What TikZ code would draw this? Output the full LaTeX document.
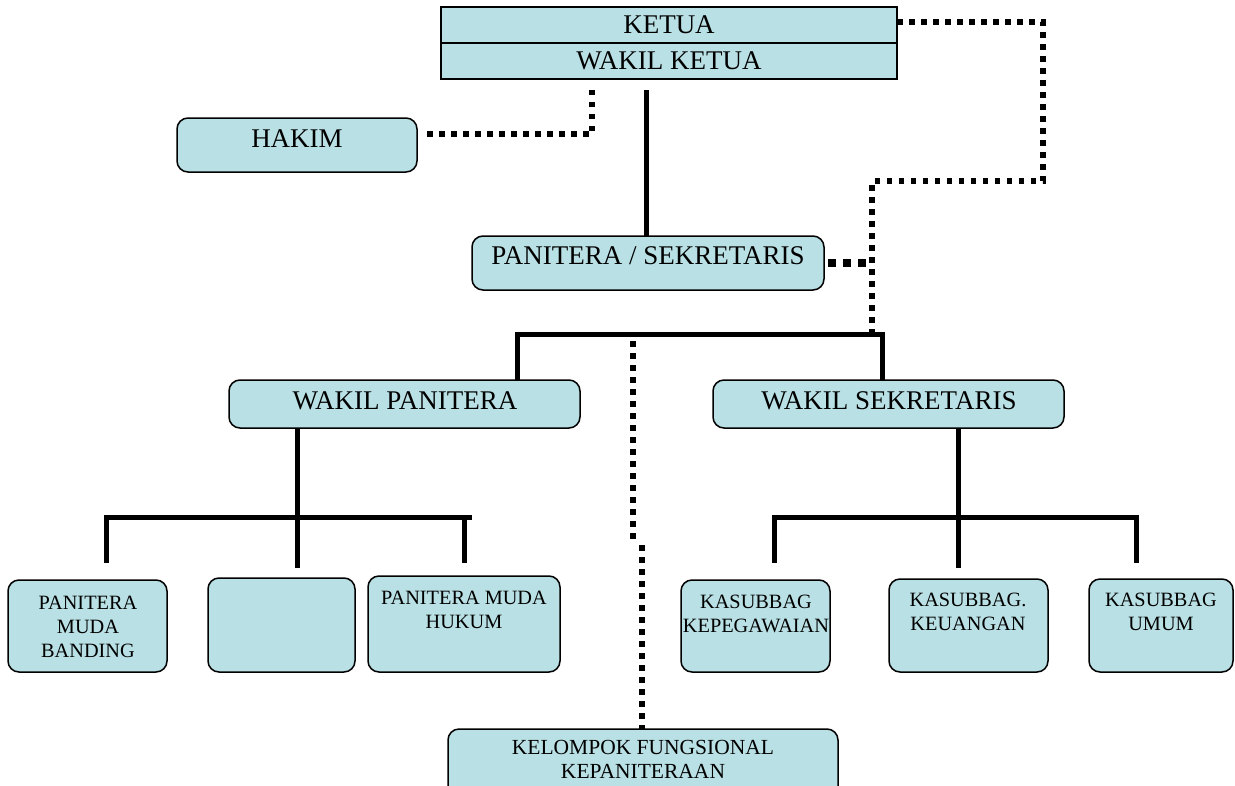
\documentclass[tikz,border=0pt]{standalone}
\usepackage{fontspec}
\setmainfont{Liberation Serif}
\definecolor{boxfill}{RGB}{185,224,228}
\tikzset{
  x=1pt, y=-1pt,
  rbox/.style={draw=black, line width=1.5pt, fill=boxfill, rounded corners=11pt},
  sqbox/.style={draw=black, line width=1.5pt, fill=boxfill},
  big/.style={font=\fontsize{27}{30}\selectfont, inner sep=0pt, anchor=center},
  small/.style={font=\fontsize{20.3}{24}\selectfont, inner sep=0pt, anchor=center},
  kfont/.style={font=\fontsize{21.5}{24}\selectfont, inner sep=0pt, anchor=center},
  solidline/.style={line width=5pt, line cap=butt},
  dotline/.style={line width=5.5pt, dash pattern=on 5.5pt off 6.5pt},
  bigdot/.style={line width=7.5pt, dash pattern=on 8pt off 7pt}
}
\begin{document}
\begin{tikzpicture}
\useasboundingbox (0,0) rectangle (1235,785);
\clip (0,0) rectangle (1235,785);

% top box
\path[sqbox] (441,7) rectangle (897,79);
\node[inner sep=0pt, minimum width=456pt, minimum height=72pt] (top) at (669,43) {};
\draw[line width=1.5pt] (441,43) -- (897,43);
\node[big] (ketua) at (669,25) {KETUA};
\node[big] (wakilketua) at (669,61) {WAKIL KETUA};

% boxes
\path[rbox] (177,118) rectangle (417,172);
\node[inner sep=0pt, minimum width=240pt, minimum height=54pt] (hakim) at (297,145) {};
\node[big] (hakimT) at (297,139) {HAKIM};

\path[rbox] (472,236) rectangle (824,290);
\node[inner sep=0pt, minimum width=352pt, minimum height=54pt] (ps) at (648,263) {};
\node[big] (psT) at (648,256) {PANITERA / SEKRETARIS};

\path[rbox] (229,380) rectangle (580,428);
\node[inner sep=0pt, minimum width=351pt, minimum height=48pt] (wp) at (404.5,404) {};
\node[big] (wpT) at (405,401) {WAKIL PANITERA};

\path[rbox] (713,380) rectangle (1064,428);
\node[inner sep=0pt, minimum width=351pt, minimum height=48pt] (ws) at (888.5,404) {};
\node[big] (wsT) at (889,401) {WAKIL SEKRETARIS};

\path[rbox] (8,580) rectangle (167,672);
\node[inner sep=0pt, minimum width=159pt, minimum height=92pt] (pmb) at (87.5,626) {};
\node[small, align=center] (pmbT) at (88,627) {PANITERA\\MUDA\\BANDING};

\path[rbox] (208,578) rectangle (355,672);
\node[inner sep=0pt, minimum width=147pt, minimum height=94pt] (empty) at (281.5,625) {};

\path[rbox] (368,576) rectangle (560,672);
\node[inner sep=0pt, minimum width=192pt, minimum height=96pt] (pmh) at (464,624) {};
\node[small, align=center] (pmhT) at (464,610) {PANITERA MUDA\\HUKUM};

\path[rbox] (681,580) rectangle (830,672);
\node[inner sep=0pt, minimum width=149pt, minimum height=92pt] (kk) at (755.5,626) {};
\node[small, align=center] (kkT) at (756,614) {KASUBBAG\\KEPEGAWAIAN};

\path[rbox] (889,579) rectangle (1048,672);
\node[inner sep=0pt, minimum width=159pt, minimum height=93pt] (kkeu) at (968.5,625.5) {};
\node[small, align=center] (kkeuT) at (968,612) {KASUBBAG.\\KEUANGAN};

\path[rbox] (1089,579) rectangle (1233,672);
\node[inner sep=0pt, minimum width=144pt, minimum height=93pt] (ku) at (1161,625.5) {};
\node[small, align=center] (kuT) at (1161,612) {KASUBBAG\\UMUM};

\path[rbox] (448,729) rectangle (838,810);
\node[inner sep=0pt, minimum width=390pt, minimum height=81pt] (kf) at (643,769.5) {};
\node[kfont, align=center] (kfT) at (643,759) {KELOMPOK FUNGSIONAL\\KEPANITERAAN};

% coordinates for connector ends
\coordinate (h1) at (427,134);
\coordinate (h2) at (592,134);
\coordinate (h3) at (592,88);
\coordinate (t1) at (646,90);
\coordinate (r1) at (897,22);
\coordinate (r2) at (1043,22);
\coordinate (r3) at (1043,181);
\coordinate (r4) at (872,181);
\coordinate (r5) at (872,333);
\coordinate (p1) at (828,263);
\coordinate (p2) at (872,263);
\coordinate (b1) at (515,334);
\coordinate (b2) at (884,334);
\coordinate (bl) at (517,331.5);
\coordinate (br) at (882,331.5);
\coordinate (c1) at (633,341);
\coordinate (c2) at (633,540);
\coordinate (c3) at (642,545);
\coordinate (c4) at (642,729);
\coordinate (L1) at (104,517);
\coordinate (L2) at (472,517);
\coordinate (R1) at (772,517);
\coordinate (R2) at (1139,517);

% dotted connectors
\draw[dotline] (h1) -- (h2) -- (h3);
\draw[dotline] (r1) -- (r2) -- (r3) -- (r4) -- (r5);
\draw[bigdot] (p1) -- (p2);
\draw[dotline] (c1) -- (c2);
\draw[dotline] (c3) -- (c4);

% solid connectors
\draw[solidline] (t1) -- (t1 |- ps.north);
\draw[solidline] (b1) -- (b2);
\draw[solidline] (bl) -- (bl |- wp.north);
\draw[solidline] (br) -- (br |- ws.north);

\draw[solidline] (wp.south -| 297,0) -- (297,519.5);
\draw[solidline] (L1) -- (L2);
\draw[solidline] (106,514.5) -- (106,563);
\draw[solidline] (297,514.5) -- (297,568);
\draw[solidline] (464,514.5) -- (464,563);

\draw[solidline] (ws.south -| 958,0) -- (958,519.5);
\draw[solidline] (R1) -- (R2);
\draw[solidline] (774,514.5) -- (774,563);
\draw[solidline] (958,514.5) -- (958,568);
\draw[solidline] (1136,514.5) -- (1136,563);
\end{tikzpicture}
\end{document}
